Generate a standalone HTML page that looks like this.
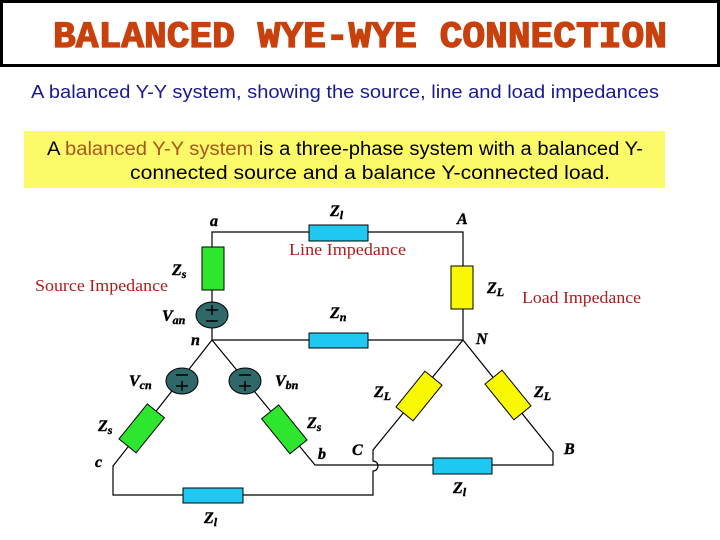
<!DOCTYPE html>
<html><head><meta charset="utf-8"><style>
html,body{margin:0;padding:0;background:#fff;width:720px;height:540px;overflow:hidden}
svg{display:block}
.lbl{font-family:"Liberation Serif",serif;font-weight:bold;font-style:italic;font-size:16px;fill:#000;stroke:#000;stroke-width:0.4}
.red{font-family:"Liberation Serif",serif;font-size:17px;fill:#b01c1c}
</style></head><body>
<svg width="720" height="540" viewBox="0 0 720 540" xmlns="http://www.w3.org/2000/svg">
<rect x="1.5" y="1.5" width="717" height="64" fill="#fff" stroke="#000" stroke-width="3"/>
<text x="360" y="47" text-anchor="middle" font-family="Liberation Mono,monospace" font-weight="bold" font-size="37" fill="#c8400c" stroke="#c8400c" stroke-width="1.3" textLength="614" lengthAdjust="spacingAndGlyphs">BALANCED WYE-WYE CONNECTION</text>
<text x="345" y="98" text-anchor="middle" font-family="Liberation Sans,sans-serif" font-size="18" fill="#1a1a8c" textLength="628" lengthAdjust="spacingAndGlyphs">A balanced Y-Y system, showing the source, line and load impedances</text>
<rect x="24" y="131" width="641" height="57" fill="#fdfa6a"/>
<text x="47" y="155" font-family="Liberation Sans,sans-serif" font-size="19" fill="#000" textLength="596" lengthAdjust="spacingAndGlyphs">A <tspan fill="#a8561c">balanced Y-Y system</tspan> is a three-phase system with a balanced Y-</text>
<text x="130" y="179" font-family="Liberation Sans,sans-serif" font-size="19" fill="#000" textLength="480" lengthAdjust="spacingAndGlyphs">connected source and a balance Y-connected load.</text>

<g stroke="#000" stroke-width="1.2" fill="none">
<path d="M212 247 V232 H463 V340 H212 V302"/>
<path d="M212 290 V302"/>
<path d="M212 340 L113 466 V495 H373 V471 A5 5 0 0 0 373 461 V450 L463 340 L553 452 V465 H373 M212 340 L315 465 H378"/>
</g>
<g fill="#1ec8f0" stroke="#000" stroke-width="1">
<rect x="309" y="225" width="59" height="16"/>
<rect x="309" y="333" width="59" height="15"/>
<rect x="433" y="458" width="59" height="16"/>
<rect x="183" y="488" width="60" height="15"/>
</g>
<g fill="#2ee62e" stroke="#000" stroke-width="1">
<rect x="202" y="247" width="22" height="43"/>
<rect x="131" y="406" width="22" height="45" transform="rotate(39 142 428)"/>
<rect x="273" y="407" width="22" height="45" transform="rotate(-39 284 429)"/>
</g>
<g fill="#f8f800" stroke="#000" stroke-width="1">
<rect x="451" y="266" width="22" height="43"/>
<rect x="408" y="373" width="22" height="46" transform="rotate(39 419 396)"/>
<rect x="497" y="372" width="22" height="46" transform="rotate(-39 508 395)"/>
</g>
<g fill="#2f6868" stroke="#000" stroke-width="1">
<ellipse cx="212" cy="315" rx="16" ry="13"/>
<ellipse cx="182" cy="381" rx="16" ry="13"/>
<ellipse cx="245" cy="381" rx="16" ry="13"/>
</g>
<g stroke="#000" stroke-width="1.5">
<path d="M206 310 H218 M212 305 V315 M206 321 H218"/>
<path d="M176 375 H188 M176 386 H188 M182 381 V391"/>
<path d="M239 375 H251 M239 386 H251 M245 381 V391"/>
</g>
<text x="210" y="226" class="lbl">a</text>
<text x="330" y="216" class="lbl" font-size="18">Z<tspan font-size="12" dy="3">l</tspan></text>
<text x="457" y="224" class="lbl">A</text>
<text x="289" y="255" class="red" textLength="117" lengthAdjust="spacingAndGlyphs">Line Impedance</text>
<text x="172" y="275" class="lbl" font-size="18">Z<tspan font-size="12" dy="3">s</tspan></text>
<text x="35" y="291" class="red" textLength="133" lengthAdjust="spacingAndGlyphs">Source Impedance</text>
<text x="487" y="293" class="lbl" font-size="18">Z<tspan font-size="12" dy="3">L</tspan></text>
<text x="522" y="303" class="red" textLength="119" lengthAdjust="spacingAndGlyphs">Load Impedance</text>
<text x="162" y="321" class="lbl" font-size="18">V<tspan font-size="12" dy="3">an</tspan></text>
<text x="330" y="318" class="lbl" font-size="18">Z<tspan font-size="12" dy="3">n</tspan></text>
<text x="191" y="345" class="lbl">n</text>
<text x="476" y="344" class="lbl">N</text>
<text x="129" y="386" class="lbl" font-size="18">V<tspan font-size="12" dy="3">cn</tspan></text>
<text x="275" y="386" class="lbl" font-size="18">V<tspan font-size="12" dy="3">bn</tspan></text>
<text x="374" y="397" class="lbl" font-size="18">Z<tspan font-size="12" dy="3">L</tspan></text>
<text x="534" y="397" class="lbl" font-size="18">Z<tspan font-size="12" dy="3">L</tspan></text>
<text x="98" y="431" class="lbl" font-size="18">Z<tspan font-size="12" dy="3">s</tspan></text>
<text x="307" y="428" class="lbl" font-size="18">Z<tspan font-size="12" dy="3">s</tspan></text>
<text x="352" y="455" class="lbl">C</text>
<text x="564" y="454" class="lbl">B</text>
<text x="318" y="459" class="lbl">b</text>
<text x="95" y="467" class="lbl">c</text>
<text x="453" y="493" class="lbl" font-size="18">Z<tspan font-size="12" dy="3">l</tspan></text>
<text x="204" y="523" class="lbl" font-size="18">Z<tspan font-size="12" dy="3">l</tspan></text>
</svg>
</body></html>
